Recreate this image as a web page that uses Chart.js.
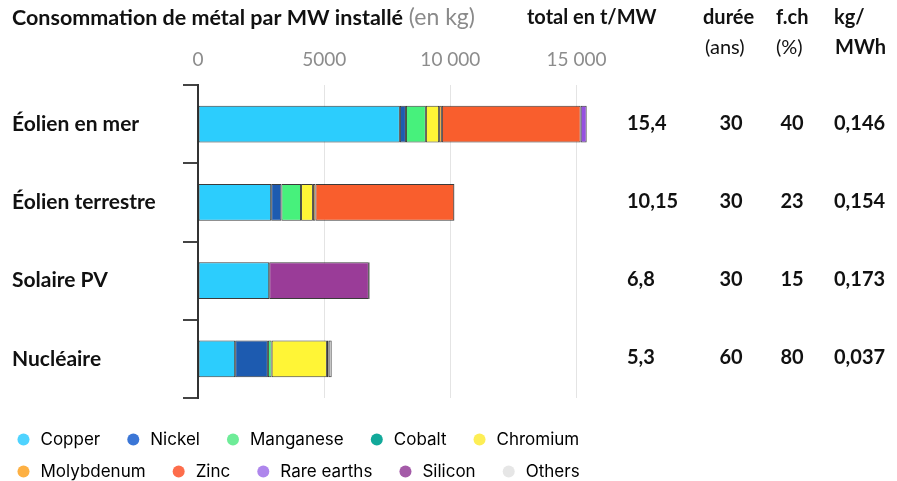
<!DOCTYPE html>
<html>
<head>
<meta charset="utf-8">
<script src="https://cdn.jsdelivr.net/npm/chart.js@4.4.1/dist/chart.umd.min.js"></script>
<style>
html, body { margin: 0; padding: 0; background: #fff; }
#wrap { width: 897px; height: 481px; position: relative; }
</style>
</head>
<body>
<div id="wrap"><canvas id="chart"></canvas></div>
<script>
// data (kg per MW installed)
var categories = ['Éolien en mer', 'Éolien terrestre', 'Solaire PV', 'Nucléaire'];
var metals = ['Copper', 'Nickel', 'Manganese', 'Cobalt', 'Chromium', 'Molybdenum', 'Zinc', 'Rare earths', 'Silicon', 'Others'];
var copper     = [8000, 2900, 2822, 1473];
var nickel     = [240, 404, null, 1297];
var manganese  = [790, 780, null, 148];
var cobalt     = [null, null, null, null];
var chromium   = [525, 470, null, 2190];
var molybdenum = [109, 99, null, 70];
var zinc       = [5500, 5500, null, null];
var rareEarths = [239, 14, null, null];
var silicon    = [null, null, 3950, null];
var others     = [null, null, 30, 120];
var xTicks = [0, 5000, 10000, 15000];

// table on the right
var totals  = ['15,4', '10,15', '6,8', '5,3'];
var durees  = ['30', '30', '30', '60'];
var fch     = ['40', '23', '15', '80'];
var kgMWh   = ['0,146', '0,154', '0,173', '0,037'];

var series = [copper, nickel, manganese, cobalt, chromium, molybdenum, zinc, rareEarths, silicon, others];
var barColors = ['#2ccdfd', '#1d5bb0', '#47f17c', '#00a99d', '#fff536', '#f4a125', '#f95e2d', '#9551e0', '#9a3c98', '#c8c8c8'];
var legendColors = ['#4fd3ff', '#3b76d6', '#6eec98', '#12a99a', '#fdee55', '#fdb043', '#fd6d4b', '#ae86ec', '#a45ba8', '#e6e6e6'];

var datasets = [];
series.forEach(function(val, ind){
    datasets.push({
        label: metals[ind],
        data: val,
        backgroundColor: barColors[ind],
        borderColor: 'rgba(25,25,25,0.85)',
        borderWidth: 1,
        borderSkipped: false
    });
});

function frNumber(v)
{
    if (v >= 10000) return String(v).replace(/\B(?=(\d{3})+(?!\d))/g, ' ');
    return String(v);
}

var textPlugin = {
    id: 'texts',
    afterLayout: function(chart){
        // labels start at the left margin, legend rows sit lower
        chart.scales.y.left = 12;
        chart.legend.top += 18;
        chart.legend.bottom += 18;
    },
    afterDraw: function(chart){
        var ctx = chart.ctx;
        var y = chart.scales.y;
        ctx.save();
        ctx.textBaseline = 'middle';
        ctx.textAlign = 'left';

        ctx.font = 'bold 21.5px Lato';
        ctx.fillStyle = '#111';
        var title = 'Consommation de métal par MW installé';
        ctx.fillText(title, 12, 18);
        var w = ctx.measureText(title).width;
        ctx.font = '23px Lato';
        ctx.fillStyle = '#8a8a8a';
        ctx.fillText(' (en kg)', 12 + w, 18);

        ctx.fillStyle = '#111';
        ctx.font = 'bold 20px Lato';
        ctx.fillText('total en t/MW', 527, 18);
        ctx.fillText('durée', 703, 18);
        ctx.fillText('f.ch', 776, 18);
        ctx.fillText('kg/', 834, 18);
        ctx.fillText('MWh', 835, 48);
        ctx.font = '20px Lato';
        ctx.fillText('(ans)', 705, 48);
        ctx.fillText('(%)', 776, 48);

        ctx.font = 'bold 20px Lato';
        categories.forEach(function(c, i){
            var py = y.getPixelForValue(i) - 1;
            ctx.textAlign = 'left';
            ctx.fillText(totals[i], 627, py);
            ctx.textAlign = 'center';
            ctx.fillText(durees[i], 731, py);
            ctx.fillText(fch[i], 792, py);
            ctx.textAlign = 'left';
            ctx.fillText(kgMWh[i], 834, py);
        });
        ctx.restore();
    }
};

var ctx0 = document.getElementById('chart').getContext('2d');
var chart = new Chart(ctx0, {
    type: 'bar',
    data: {
        labels: categories,
        datasets: datasets
    },
    plugins: [textPlugin],
    options: {
        indexAxis: 'y',
        animation: false,
        responsive: true,
        maintainAspectRatio: false,
        layout: {
            padding: { left: 0, right: 270, top: 40, bottom: 9 }
        },
        datasets: {
            bar: { categoryPercentage: 1, barPercentage: 0.47 }
        },
        plugins: {
            tooltip: { enabled: false },
            legend: {
                position: 'bottom',
                align: 'start',
                labels: {
                    usePointStyle: true,
                    pointStyle: 'circle',
                    boxWidth: 18,
                    boxHeight: 8.5,
                    padding: 15,
                    color: '#1e1e1e',
                    font: { family: 'Inter', size: 17 },
                    generateLabels: function(){
                        return metals.map(function(m, i){
                            return {
                                // two trailing spaces widen the gap between items
                                text: m + '  ',
                                fillStyle: legendColors[i],
                                strokeStyle: legendColors[i],
                                lineWidth: 0,
                                pointStyle: 'circle',
                                datasetIndex: i,
                                hidden: false
                            };
                        });
                    }
                }
            }
        },
        scales: {
            x: {
                position: 'top',
                stacked: true,
                min: 0,
                max: 17000,
                afterFit: function(s){ s.height = 45; },
                afterBuildTicks: function(s){
                    s.ticks = xTicks.map(function(v){ return { value: v }; });
                },
                border: { display: false },
                grid: { color: '#e4e4e4', lineWidth: 1, drawTicks: false },
                ticks: {
                    padding: 14,
                    color: '#8c8c8c',
                    font: { family: 'Lato', size: 19 },
                    callback: function(v){ return frNumber(v); }
                }
            },
            y: {
                stacked: true,
                afterFit: function(s){ s.width = 198; },
                border: { display: true, color: '#333', width: 2 },
                grid: {
                    offset: true,
                    drawOnChartArea: false,
                    drawTicks: true,
                    tickLength: 15,
                    color: '#444',
                    lineWidth: 2
                },
                ticks: {
                    crossAlign: 'far',
                    color: '#111',
                    font: { family: 'Lato', size: 21, weight: 'bold' }
                }
            }
        }
    }
});
</script>
</body>
</html>
